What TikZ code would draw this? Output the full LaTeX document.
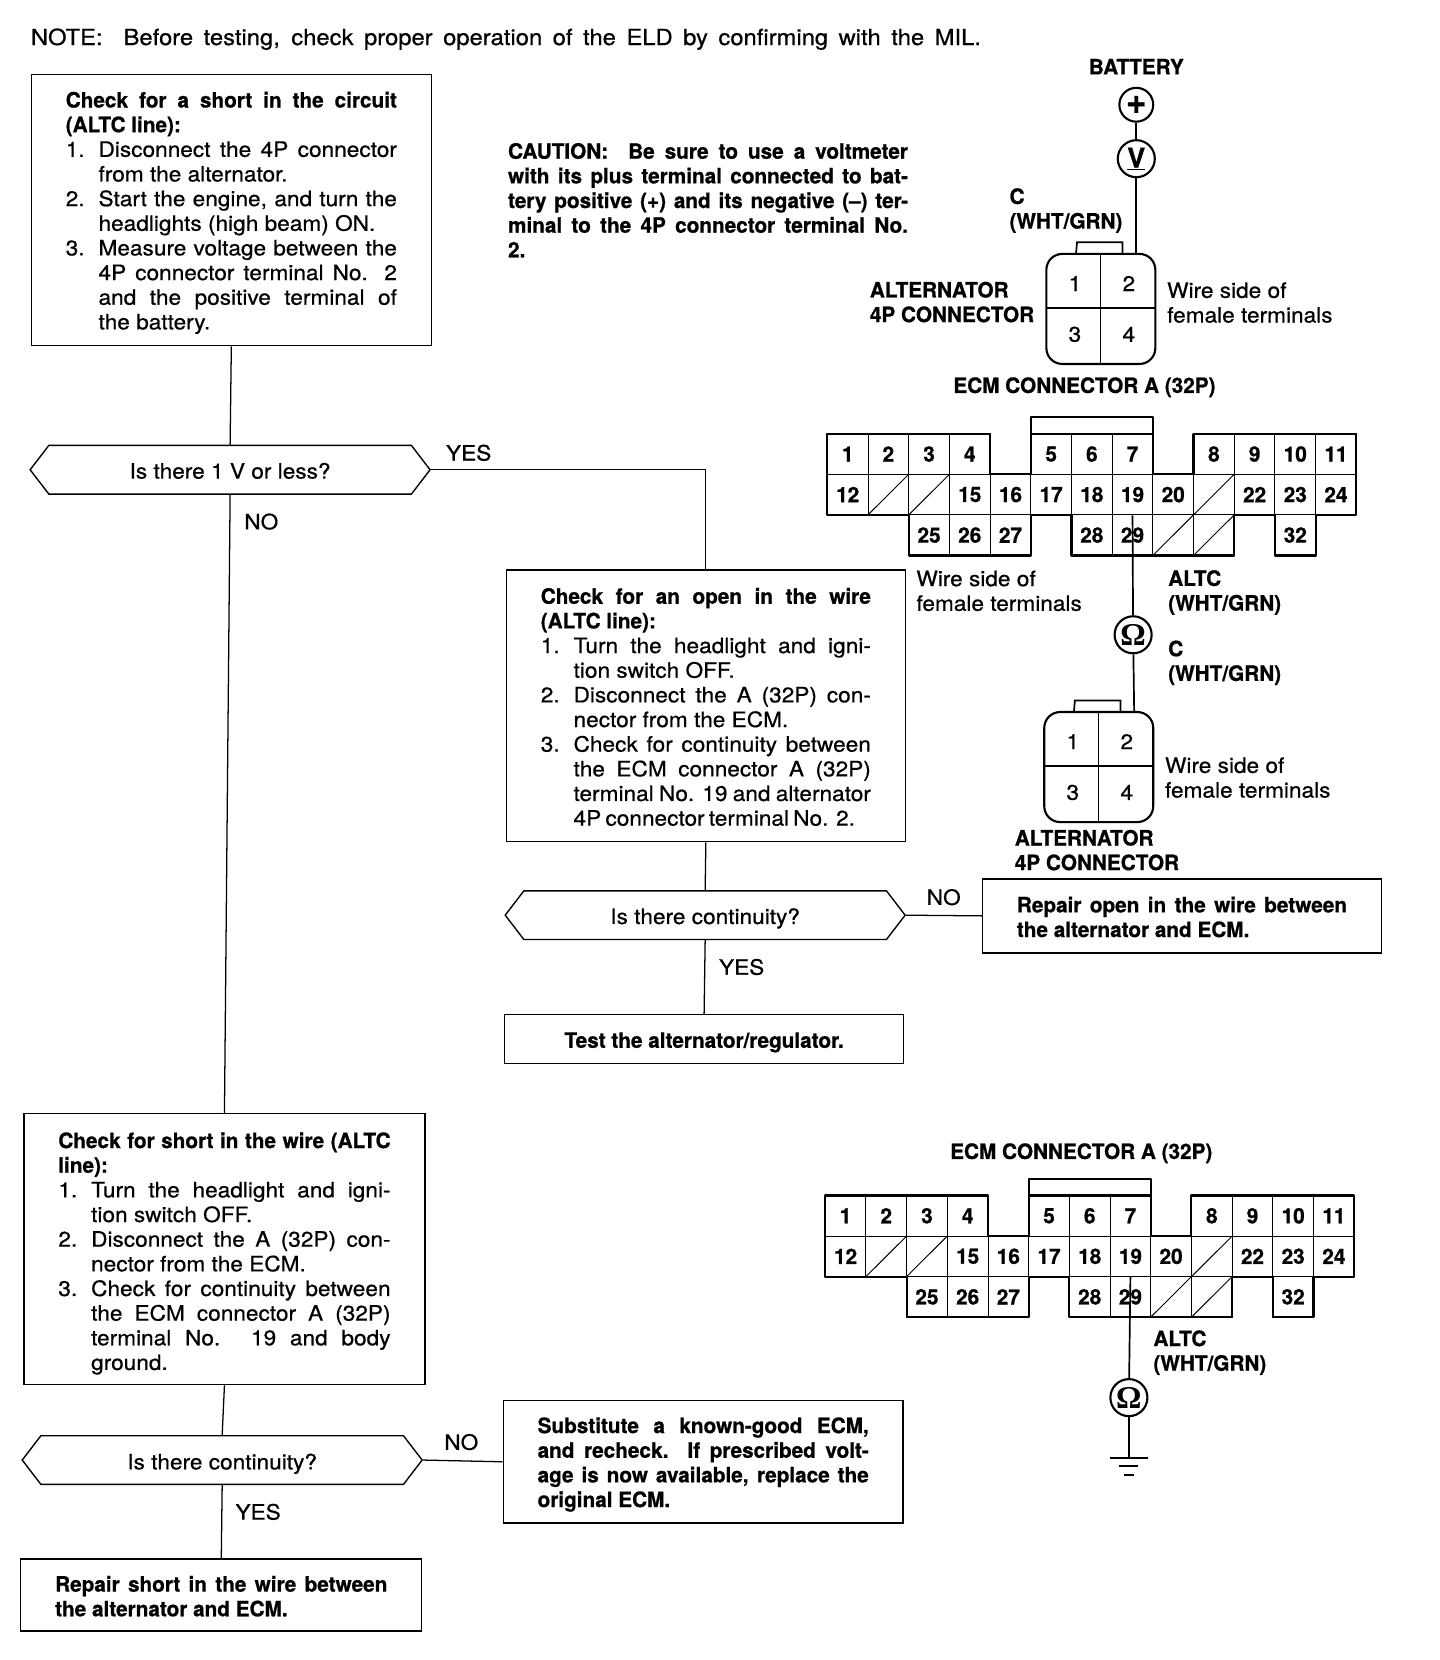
\documentclass[tikz,border=0pt]{standalone}
\usepackage{fontspec}
\setmainfont[FakeStretch=1.07,FakeBold=0.6,BoldFeatures={FakeStretch=0.98,FakeBold=0.8}]{TeX Gyre Heros}
\newfontfamily\ohmfont{Liberation Serif}
\usetikzlibrary{shapes.symbols}

% one line stretched to the given width
\newcommand{\fullline}[2]{\makebox[#1][s]{#2}}
\newcommand{\numline}[3]{\makebox[31pt][l]{#1}\makebox[#2][s]{#3}}
\newcommand{\hangline}[2]{\hspace*{31pt}\makebox[#1][s]{#2}}
\newcommand{\hangtext}[1]{\hspace*{31pt}#1}

\tikzset{
    manual/.style={font=\fontsize{20}{23.3}\selectfont},
    flowbox/.style={draw, line width=1.3pt, anchor=north west, inner sep=0pt, align=left, manual},
    flowhex/.style={draw, line width=1.3pt, shape=signal, signal to=east and west, signal pointer angle=105,
        minimum width=378pt, minimum height=46pt, inner sep=0pt, manual},
    flowline/.style={line width=1.2pt},
    wirelabel/.style={anchor=west, inner sep=0pt, align=left, font=\fontsize{20}{23.3}\selectfont},
    boldlabel/.style={wirelabel, font=\fontsize{20}{23.3}\selectfont\bfseries},
    answer/.style={inner sep=0pt, manual},
    meter/.style={draw, circle, line width=2pt, minimum size=35pt, inner sep=0pt, fill=white},
    wire/.style={line width=1.6pt},
    termnum/.style={inner sep=0pt, font=\fontsize{20}{20}\selectfont\bfseries},
    % 32P connector, terminals named c1 to c32
    ecmconn/.pic={
        \foreach \t/\c/\r in {1/0/0,2/1/0,3/2/0,4/3/0,5/5/0,6/6/0,7/7/0,8/9/0,9/10/0,10/11/0,11/12/0,
                12/0/1,13/1/1,14/2/1,15/3/1,16/4/1,17/5/1,18/6/1,19/7/1,20/8/1,21/9/1,22/10/1,23/11/1,24/12/1,
                25/2/2,26/3/2,27/4/2,28/6/2,29/7/2,30/8/2,31/9/2,32/11/2}{
            \node[draw, line width=0.9pt, minimum width=38.46pt, minimum height=38.3pt, inner sep=0pt, termnum]
                (c\t) at ({(\c+0.5)*38.46},{(\r+0.5)*38.3}) {\ifnum\t=13 \else\ifnum\t=14 \else\ifnum\t=21 \else\ifnum\t=30 \else\ifnum\t=31 \else\t\fi\fi\fi\fi\fi};
        }
        \foreach \t in {13,14,21,30,31}
            \draw[line width=0.9pt] (c\t.south west) -- (c\t.north east);
        \draw[line width=2pt, line join=round] (0,0) -- (153.8,0) -- (153.8,38.3) -- (192.3,38.3) -- (192.3,-16) -- (307.7,-16)
            -- (307.7,38.3) -- (346.1,38.3) -- (346.1,0) -- (500,0) -- (500,76.6) -- (461.5,76.6) -- (461.5,115)
            -- (423,115) -- (423,76.6) -- (384.6,76.6) -- (384.6,115) -- (230.8,115) -- (230.8,76.6) -- (192.3,76.6)
            -- (192.3,115) -- (76.9,115) -- (76.9,76.6) -- (0,76.6) -- cycle;
        \draw[line width=2pt] (192.3,0) -- (307.7,0);
    },
    % 4P connector, wire comes in at coordinate w
    altconn/.pic={
        \draw[line width=1.6pt] (28,0) -- (29,-11) -- (72,-11) -- (72,0);
        \draw[line width=2pt, rounded corners=15pt] (0,0) rectangle (103,104);
        \draw[line width=1.2pt] (51,0) -- (51,104);
        \draw[line width=1.2pt] (0,51) -- (103,51);
        \node[termnum, font=\fontsize{20}{20}\selectfont] (n1) at (27,28) {1};
        \node[termnum, font=\fontsize{20}{20}\selectfont] (n2) at (78,28) {2};
        \node[termnum, font=\fontsize{20}{20}\selectfont] (n3) at (27,76) {3};
        \node[termnum, font=\fontsize{20}{20}\selectfont] (n4) at (78,76) {4};
        \coordinate (w) at (85,0);
    }
}

\begin{document}
\begin{tikzpicture}[x=1pt, y=-1pt]
    \useasboundingbox (0,0) rectangle (1361,1569);

    % Note and caution
    \node[wirelabel, font=\fontsize{21}{24}\selectfont] (note) at (29,37) {\fullline{898pt}{NOTE:\ \ Before testing, check proper operation of the ELD by confirming with the MIL.}};
    \node[boldlabel, anchor=north west] (caution) at (480,135) {\fullline{378pt}{CAUTION:\ \ Be sure to use a voltmeter}\\
        \fullline{378pt}{with its plus terminal connected to bat-}\\
        \fullline{378pt}{tery positive (+) and its negative (--) ter-}\\
        \fullline{378pt}{minal to the 4P connector terminal No.}\\
        2.};

    % Left flow, top
    \node[flowbox, minimum width=378pt, minimum height=256pt] (shortbox) at (29,70) {%
        \rule{0pt}{20pt}\fullline{313pt}{\bfseries Check for a short in the circuit}\\
        \textbf{(ALTC line):}\\
        \numline{1.}{282pt}{Disconnect the 4P connector}\\
        \hangtext{from the alternator.}\\
        \numline{2.}{282pt}{Start the engine, and turn the}\\
        \hangtext{headlights (high beam) ON.}\\
        \numline{3.}{282pt}{Measure voltage between the}\\
        \hangline{282pt}{4P connector terminal No. 2}\\
        \hangline{282pt}{and the positive terminal of}\\
        \hangtext{the battery.}};
    \node[flowhex] (hexvolt) at (217.5,444) {\rule{0pt}{17pt}Is there 1 V or less?};
    \node[answer] (yesvolt) at (443,428) {YES};
    \node[answer] (novolt) at (247,493) {NO};

    % Middle flow
    \node[flowbox, minimum width=377pt, minimum height=257pt] (openbox) at (478,538) {%
        \rule{0pt}{17pt}\fullline{312pt}{\bfseries Check for an open in the wire}\\
        \textbf{(ALTC line):}\\
        \numline{1.}{281pt}{Turn the headlight and igni-}\\
        \hangtext{tion switch OFF.}\\
        \numline{2.}{281pt}{Disconnect the A (32P) con-}\\
        \hangtext{nector from the ECM.}\\
        \numline{3.}{281pt}{Check for continuity between}\\
        \hangline{281pt}{the ECM connector A (32P)}\\
        \hangline{281pt}{terminal No. 19 and alternator}\\
        \hangline{263pt}{4P connector terminal No. 2.}};
    \node[flowhex] (hexopen) at (666.5,865) {\rule{0pt}{21pt}Is there continuity?};
    \node[answer] (noopen) at (892,848) {NO};
    \node[answer] (yesopen) at (701,914) {YES};
    \node[flowbox, minimum width=377pt, minimum height=46pt, anchor=center, font=\fontsize{20}{23.3}\selectfont\bfseries] (testbox) at (665.5,982) {\rule{0pt}{21pt}Test the alternator/regulator.};
    \node[flowbox, minimum width=377pt, minimum height=70pt] (repairopen) at (928,830) {%
        \rule{0pt}{17pt}\fullline{312pt}{\bfseries Repair open in the wire between}\\
        \textbf{the alternator and ECM.}};

    % Left flow, bottom
    \node[flowbox, minimum width=379pt, minimum height=256pt] (wirebox) at (22,1052) {%
        \rule{0pt}{23pt}\fullline{314pt}{\bfseries Check for short in the wire (ALTC}\\
        \textbf{line):}\\
        \numline{1.}{283pt}{Turn the headlight and igni-}\\
        \hangtext{tion switch OFF.}\\
        \numline{2.}{283pt}{Disconnect the A (32P) con-}\\
        \hangtext{nector from the ECM.}\\
        \numline{3.}{283pt}{Check for continuity between}\\
        \hangline{283pt}{the ECM connector A (32P)}\\
        \hangline{283pt}{terminal No. 19 and body}\\
        \hangtext{ground.}};
    \node[flowhex] (hexshort) at (210,1380) {\rule{0pt}{22pt}Is there continuity?};
    \node[answer] (noshort) at (436,1363) {NO};
    \node[answer] (yesshort) at (244,1429) {YES};
    \node[flowbox, minimum width=378pt, minimum height=116pt, font=\fontsize{20}{23.3}\selectfont\bfseries] (substbox) at (475,1323) {%
        \rule{0pt}{20pt}\fullline{313pt}{\bfseries Substitute a known-good ECM,}\\
        \fullline{313pt}{\bfseries and recheck. If prescribed volt-}\\
        \fullline{313pt}{\bfseries age is now available, replace the}\\
        original ECM.};
    \node[flowbox, minimum width=379pt, minimum height=68pt, font=\fontsize{20}{23.3}\selectfont\bfseries] (repairshort) at (19,1473) {%
        \rule{0pt}{17pt}\fullline{314pt}{\bfseries Repair short in the wire between}\\
        the alternator and ECM.};

    % Flow connectors
    \draw[flowline] (shortbox.south) -- (hexvolt.north);
    \draw[flowline] (hexvolt.south) -- (wirebox.north);
    \draw[flowline] (hexvolt.east) -| (openbox.north);
    \draw[flowline] (openbox.south) -- (hexopen.north);
    \draw[flowline] (hexopen.south) -- (testbox.north);
    \draw[flowline] (hexopen.east) -- (repairopen.west);
    \draw[flowline] (wirebox.south) -- (hexshort.north);
    \draw[flowline] (hexshort.south) -- (repairshort.north);
    \draw[flowline] (hexshort.east) -- (substbox.west);

    % Voltage check at the battery
    \node[boldlabel, anchor=center] (battery) at (1074,63) {BATTERY};
    \node[meter, minimum size=32pt, font=\fontsize{34}{34}\selectfont\bfseries] (plus) at (1074,99) {+};
    \node[meter, font=\fontsize{26}{26}\selectfont\bfseries] (volt) at (1074,150) {\underline{V}};
    \node[boldlabel] (clabela) at (954,199) {C\\(WHT/GRN)};
    \pic (alta) at (989,240) {altconn};
    \node[boldlabel] (altnamea) at (822,285.5) {ALTERNATOR\\4P CONNECTOR};
    \node[wirelabel] (wirea) at (1103,286) {Wire side of\\female terminals};
    \draw[wire] (plus) -- (volt);
    \draw[wire] (volt) -- (altaw);

    % Continuity between ECM and alternator
    \node[boldlabel, anchor=center] (ecmnamea) at (1025,366) {ECM CONNECTOR A (32P)};
    \pic (ecma) at (782,410) {ecmconn};
    \node[wirelabel] (wireb) at (866,558.5) {Wire side of\\female terminals};
    \node[boldlabel] (altca) at (1104,560) {ALTC\\(WHT/GRN)};
    \node[meter, font=\fontsize{30}{30}\selectfont\ohmfont\bfseries] (ohma) at (1071,600) {Ω};
    \node[boldlabel] (clabelb) at (1104,626.5) {C\\(WHT/GRN)};
    \pic (altb) at (987,673) {altconn};
    \node[wirelabel] (wirec) at (1101,735) {Wire side of\\female terminals};
    \node[boldlabel] (altnameb) at (959,803.5) {ALTERNATOR\\4P CONNECTOR};
    \draw[wire] (ecmac19.south) -- (ohma);
    \draw[wire] (ohma) -- (altbw);

    % Continuity between ECM and ground
    \node[boldlabel, anchor=center] (ecmnameb) at (1022,1090) {ECM CONNECTOR A (32P)};
    \pic (ecmb) at (780,1130) {ecmconn};
    \node[boldlabel] (altcb) at (1090,1278.5) {ALTC\\(WHT/GRN)};
    \node[meter, font=\fontsize{30}{30}\selectfont\ohmfont\bfseries] (ohmb) at (1067,1321) {Ω};
    \coordinate (gnd) at (1067,1378);
    \draw[wire] (ecmbc19.south) -- (ohmb);
    \draw[wire] (ohmb) -- (gnd);
    \draw[line width=1.8pt] ([xshift=-18pt]gnd) -- ([xshift=18pt]gnd);
    \draw[line width=1.8pt] ([xshift=-9pt,yshift=-8pt]gnd) -- ([xshift=9pt,yshift=-8pt]gnd);
    \draw[line width=1.8pt] ([xshift=-5pt,yshift=-16pt]gnd) -- ([xshift=5pt,yshift=-16pt]gnd);
\end{tikzpicture}
\end{document}
